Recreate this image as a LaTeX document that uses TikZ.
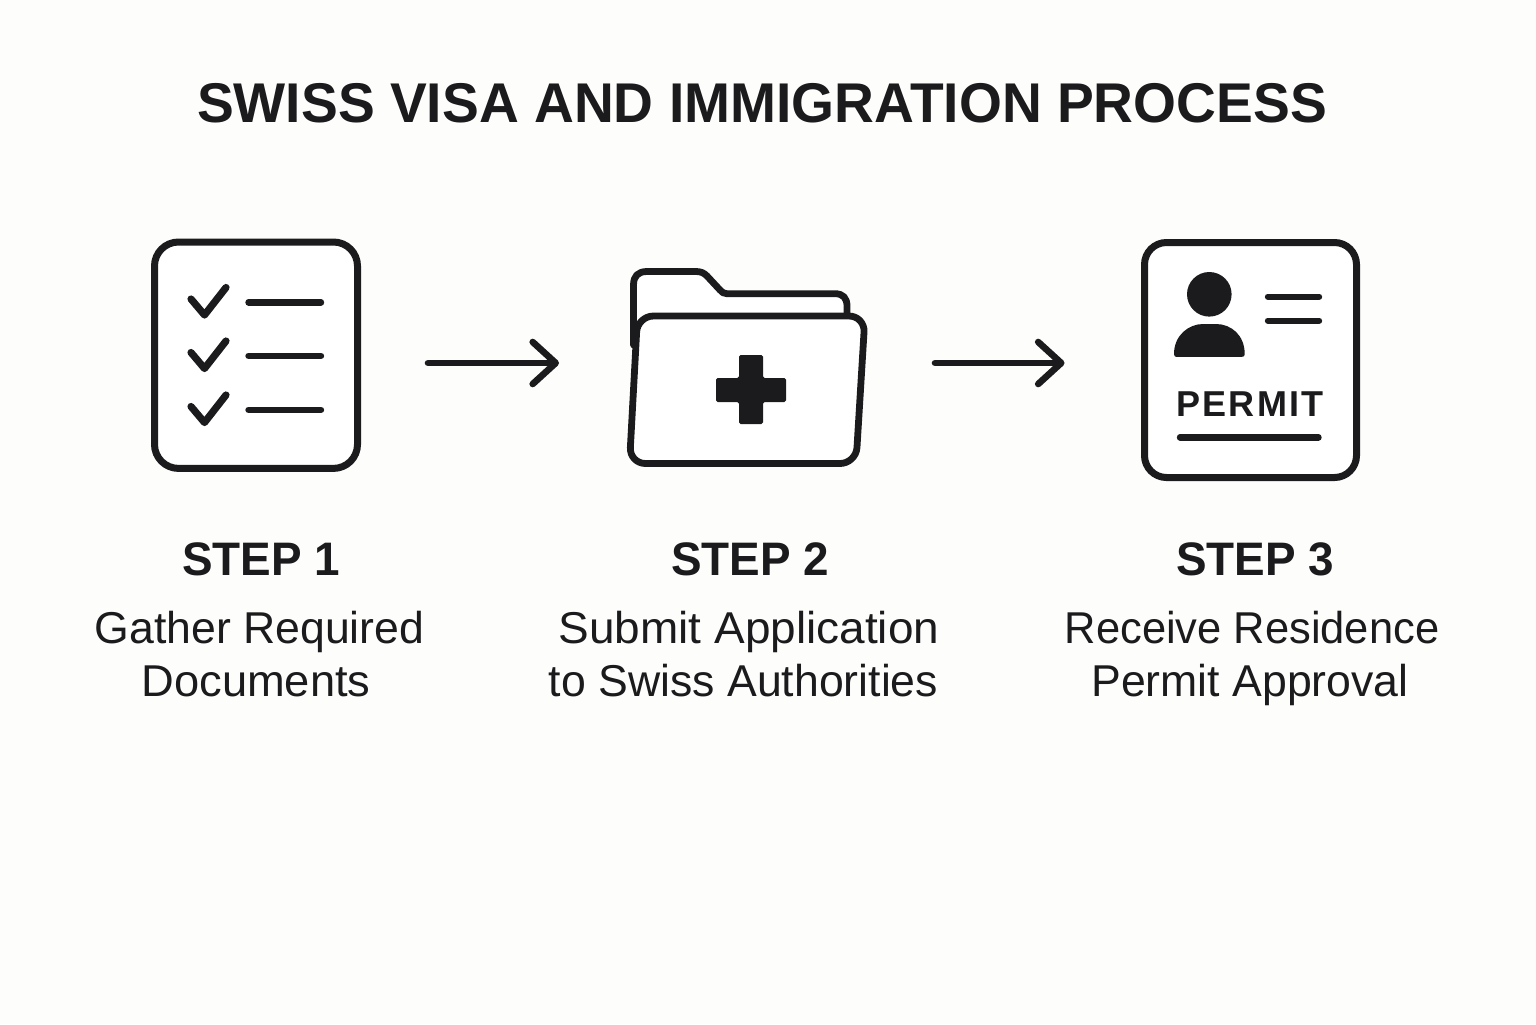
\documentclass[tikz,border=0pt]{standalone}
\usepackage{graphicx}
\usepackage{fontspec}
\setmainfont{Liberation Sans}
\usetikzlibrary{arrows.meta}
\definecolor{ink}{HTML}{1B1B1D}
\definecolor{paper}{HTML}{FDFDFB}
\tikzset{
  x=0.5pt,y=-0.5pt,
  iconline/.style={draw=ink,line width=3.4pt,line cap=round,line join=round},
  thinrule/.style={draw=ink,line width=3.2pt,line cap=round},
  checkmark/.style={draw=ink,line width=3.6pt,line cap=round,line join=round},
  iconbox/.style={draw=ink,fill=white,line width=3.5pt,rectangle,rounded corners=12pt,inner sep=0pt,outer sep=0pt},
  ghostbox/.style={rectangle,inner sep=0pt,outer sep=0pt},
  titletext/.style={anchor=base,inner sep=0pt,text=ink,font=\fontsize{28pt}{32pt}\selectfont\bfseries},
  steptext/.style={anchor=base,inner sep=0pt,text=ink,font=\fontsize{23.5pt}{28pt}\selectfont\bfseries},
  bodytext/.style={anchor=base,inner sep=0pt,text=ink,font=\fontsize{22.3pt}{26pt}\selectfont},
  permittext/.style={anchor=base,inner sep=0pt,text=ink,font=\fontsize{18pt}{20pt}\selectfont\bfseries},
  flowarrow/.style={draw=ink,line width=3.3pt,line cap=round,-{Straight Barb[length=11.5pt,width=21pt,line width=3.3pt,round]}},
}
\begin{document}
\begin{tikzpicture}
\fill[paper] (0,0) rectangle (1536,1024);
\useasboundingbox (0,0) rectangle (1536,1024);

\node[titletext] (title) at (762,122) {\scalebox{0.985}[1]{SWISS VISA AND IMMIGRATION PROCESS}};

% Step 1 icon
\node[iconbox,minimum width=101.5pt,minimum height=113.2pt] (doc) at (256,355.2) {};
\foreach \dy in {0,53.5,107.5}{
  \draw[checkmark] (191,299+\dy) -- (204.5,315+\dy) -- (226,287.5+\dy);
  \draw[thinrule] (248.5,302.3+\dy) -- (321,302.3+\dy);
}

% Step 2 icon
\node[ghostbox,minimum width=120pt,minimum height=98pt] (folder) at (748,368) {};
\draw[iconline,fill=white] (633.5,345) -- (633.5,285) .. controls (633.5,276) and (638,271.5) .. (647,271.5) -- (696,271.5) .. controls (701,271.5) and (704,273) .. (707,276) -- (720,290) .. controls (722,292.5) and (724,293.7) .. (727,293.7) -- (835,293.7) .. controls (843,293.7) and (847,298) .. (847,306) -- (847,325);
\draw[iconline,fill=white,rounded corners=8pt] (637.5,316) -- (865,316) -- (856,463.5) -- (629.5,463.5) -- cycle;
\fill[ink,rounded corners=0.8pt] (739,355) -- (763,355) -- (763,378) -- (786,378) -- (786,402) -- (763,402) -- (763,424) -- (739,424) -- (739,402) -- (716,402) -- (716,378) -- (739,378) -- cycle;

% Step 3 icon
\node[iconbox,rounded corners=11pt,minimum width=106pt,minimum height=117.5pt] (permit) at (1250.5,360) {};
\fill[ink] (1209.3,294.3) circle[radius=11.15pt];
\fill[ink] (1174,354) .. controls (1174,335) and (1189,324) .. (1203,324) -- (1216,324) .. controls (1231,324) and (1244.7,335) .. (1244.7,354) .. controls (1244.7,356) and (1244,356.8) .. (1242,356.8) -- (1176,356.8) .. controls (1175,356.8) and (1174,356) .. (1174,354) -- cycle;
\draw[thinrule] (1268,296.7) -- (1319,296.7);
\draw[thinrule] (1268,320.7) -- (1319,320.7);
\node[permittext] (permitword) at (1250,416) {\addfontfeatures{LetterSpace=6}PERMIT};
\draw[thinrule] (1180,437.3) -- (1318.5,437.3);

% Connectors
\coordinate (midline) at (0,363);
\draw[flowarrow,shorten <=35.25pt,shorten >=34.5pt] (doc.east |- midline) -- (folder.west |- midline);
\draw[flowarrow,shorten <=33.5pt,shorten >=40pt] (folder.east |- midline) -- (permit.west |- midline);

% Labels
\node[steptext] (stepa) at (261,575) {\scalebox{0.975}[1]{STEP 1}};
\node[steptext] (stepb) at (750,575) {\scalebox{0.975}[1]{STEP 2}};
\node[steptext] (stepc) at (1255,575) {\scalebox{0.975}[1]{STEP 3}};
\node[bodytext] (bodyaa) at (259.5,643) {Gather Required};
\node[bodytext] (bodyab) at (256,696) {\scalebox{1.015}[1]{Documents}};
\node[bodytext] (bodyba) at (749,643) {\scalebox{1.03}[1]{Submit Application}};
\node[bodytext] (bodybb) at (743.5,696) {to Swiss Authorities};
\node[bodytext] (bodyca) at (1252,643) {\scalebox{0.975}[1]{Receive Residence}};
\node[bodytext] (bodycb) at (1250,696) {Permit Approval};
\end{tikzpicture}
\end{document}
